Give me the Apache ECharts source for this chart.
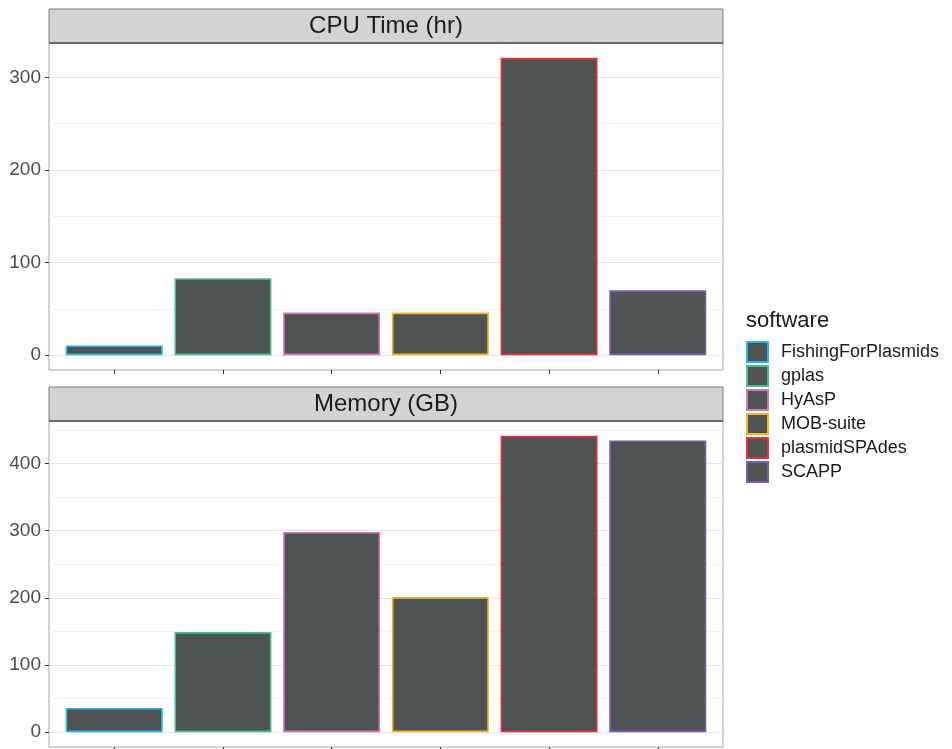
<!DOCTYPE html>
<html>
<head>
<meta charset="utf-8">
<script src="https://cdn.jsdelivr.net/npm/echarts@6/dist/echarts.min.js"></script>
<style>
  html, body { margin: 0; padding: 0; background: #ffffff; }
  #chart { width: 952px; height: 749px; }
</style>
</head>
<body>
<div id="chart"></div>
<script>
// ---- data ----
var software = ['FishingForPlasmids', 'gplas', 'HyAsP', 'MOB-suite', 'plasmidSPAdes', 'SCAPP'];
var cpuHours = [10.5, 83, 46, 46, 321, 70];
var memoryGB = [36, 149, 298, 201, 441, 434];
var cpuTicks = [0, 100, 200, 300];
var memTicks = [0, 100, 200, 300, 400];
var panelTitles = ['CPU Time (hr)', 'Memory (GB)'];
var legendTitle = 'software';

// ---- styles ----
var borderColors = ['#1DB9E9', '#4CBF85', '#D278B6', '#F2B81F', '#E8303A', '#7C5BAF'];
var barFill = '#4F5353';
var FONT = 'Liberation Sans, Arial, sans-serif';

var chart = echarts.init(document.getElementById('chart'), null, { renderer: 'canvas' });

var panels = [
  { top: 43, height: 327, values: cpuHours, ticks: cpuTicks },
  { top: 421, height: 326, values: memoryGB, ticks: memTicks }
];
var LEFT = 49, WIDTH = 674;

function minorOf(ticks) {
  var out = [];
  for (var i = 0; i < ticks.length - 1; i++) out.push((ticks[i] + ticks[i + 1]) / 2);
  return out;
}

var grids = [], xAxes = [], yAxes = [], series = [], graphics = [];
var xPositions = software.map(function (s, i) { return i + 1; });

panels.forEach(function (p, pi) {
  var vmax = Math.max.apply(null, p.values);
  grids.push({
    left: LEFT, width: WIDTH, top: p.top, height: p.height,
    show: true, borderColor: '#A6A6A6', borderWidth: 1, backgroundColor: '#ffffff'
  });
  xAxes.push({
    type: 'value', gridIndex: pi, min: 0.4, max: software.length + 0.6, position: 'bottom',
    axisLine: { show: false, onZero: false },
    axisTick: { show: true, inside: false, length: 4, customValues: xPositions, lineStyle: { color: '#333333', width: 1 } },
    axisLabel: { show: false },
    splitLine: { show: false }
  });
  yAxes.push({
    type: 'value', gridIndex: pi, min: -0.05 * vmax, max: 1.05 * vmax,
    axisLine: { show: false, onZero: false },
    axisTick: { show: true, length: 4, customValues: p.ticks, lineStyle: { color: '#333333', width: 1 } },
    axisLabel: { show: true, customValues: p.ticks, margin: 8, color: '#4D4D4D', fontSize: 19, fontFamily: FONT },
    splitLine: { show: false }
  });
  // grid lines via markLine on a helper series
  var ml = [];
  minorOf(p.ticks).concat(p.ticks[p.ticks.length - 1] + (p.ticks[1] - p.ticks[0]) / 2).forEach(function (v) {
    if (v < 1.05 * vmax) ml.push({ yAxis: v, lineStyle: { color: '#F2F2F2', width: 1, type: 'solid' } });
  });
  p.ticks.forEach(function (v) {
    ml.push({ yAxis: v, lineStyle: { color: '#E6E6E6', width: 1.2, type: 'solid' } });
  });
  series.push({
    type: 'line', xAxisIndex: pi, yAxisIndex: pi, data: [], z: 1, silent: true,
    markLine: { z: 1, silent: true, symbol: 'none', label: { show: false }, animation: false, data: ml }
  });
  software.forEach(function (name, i) {
    series.push({
      name: name, type: 'bar', xAxisIndex: pi, yAxisIndex: pi, z: 3,
      barWidth: 97, barGap: '-100%',
      itemStyle: { color: barFill, borderColor: borderColors[i], borderWidth: 1.6 },
      emphasis: { disabled: true },
      data: [[xPositions[i], p.values[i]]]
    });
  });
  // strip header
  var stripTop = p.top - 34;
  graphics.push({
    type: 'rect', z: 10,
    shape: { x: LEFT, y: stripTop, width: WIDTH, height: 34 },
    style: { fill: '#D3D3D3', stroke: '#7F7F7F', lineWidth: 1 }
  });
  graphics.push({
    type: 'line', z: 11,
    shape: { x1: LEFT, y1: p.top, x2: LEFT + WIDTH, y2: p.top },
    style: { stroke: '#555555', lineWidth: 1.5 }
  });
  graphics.push({
    type: 'text', z: 12,
    x: LEFT + WIDTH / 2, y: stripTop + 17,
    style: { text: panelTitles[pi], fill: '#1A1A1A', fontSize: 24, fontFamily: FONT, align: 'center', verticalAlign: 'middle' }
  });
});

graphics.push({
  type: 'text', z: 12, x: 746, y: 321,
  style: { text: legendTitle, fill: '#1A1A1A', fontSize: 22, fontFamily: FONT, align: 'left', verticalAlign: 'middle' }
});

chart.setOption({
  animation: false,
  backgroundColor: '#ffffff',
  grid: grids,
  xAxis: xAxes,
  yAxis: yAxes,
  legend: {
    data: software, orient: 'vertical', left: 741, top: 336,
    itemWidth: 21, itemHeight: 20, itemGap: 2, icon: 'rect',
    selectedMode: false,
    textStyle: { color: '#1A1A1A', fontSize: 18, lineHeight: 21, fontFamily: FONT, padding: [0, 0, 0, 8] }
  },
  graphic: graphics,
  series: series
});
</script>
</body>
</html>
